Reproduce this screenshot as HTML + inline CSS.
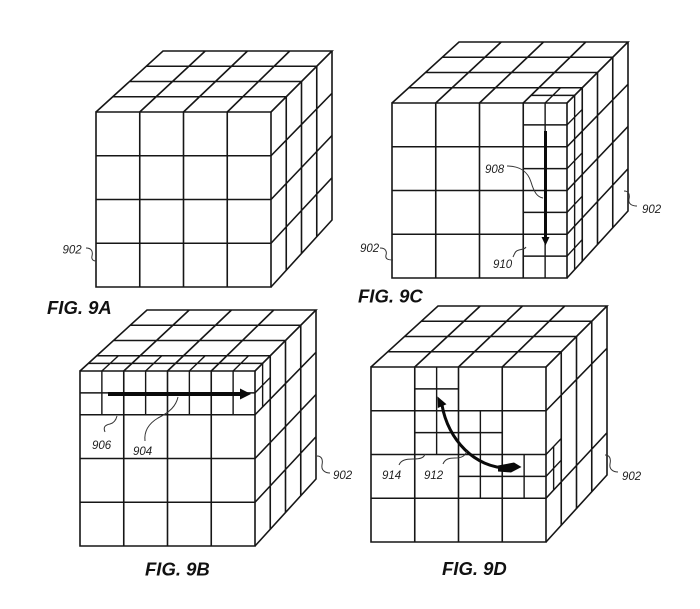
<!DOCTYPE html>
<html>
<head>
<meta charset="utf-8">
<style>
html,body{margin:0;padding:0;background:#fff;}
svg{display:block;}
.n{font-family:"Liberation Sans",sans-serif;font-style:italic;font-size:11.5px;fill:#222;stroke:none;}
.f{font-family:"Liberation Sans",sans-serif;font-style:italic;font-weight:bold;font-size:18.5px;fill:#111;stroke:none;}
</style>
</head>
<body>
<svg width="700" height="609" viewBox="0 0 700 609" fill="none" stroke="#161616" stroke-width="1.6">
<defs>
<g id="cube">
<path d="M0 0H175V175H0Z M43.75 0V175 M87.5 0V175 M131.25 0V175 M0 43.75H175 M0 87.5H175 M0 131.25H175"/>
<path d="M0 0L67 -61H236L175 0 M43.75 0L109.25 -61 M87.5 0L151.5 -61 M131.25 0L193.75 -61 M16.75 -15.25H190.25 M33.5 -30.5H205.5 M50.25 -45.75H220.75"/>
<path d="M236 -61V108L175 175 M190.25 -15.25V158.25 M205.5 -30.5V141.5 M220.75 -45.75V124.75 M175 43.75L236 -18.75 M175 131.25L236 65.75"/>
</g>
</defs>

<!-- FIG 9A -->
<g transform="translate(96,112)">
<use href="#cube"/>
<path d="M175 87.5L236 23.5"/>
</g>

<!-- FIG 9B -->
<g transform="translate(80,371)">
<use href="#cube"/>
<path d="M175 87.5L236 23.5"/>
<path stroke-width="1.4" d="M21.875 0V43.75 M65.625 0V43.75 M109.375 0V43.75 M153.125 0V43.75 M0 21.875H175 M8.375 -7.625H182.625 M21.875 0L38.44 -15.25 M65.625 0L81.81 -15.25 M109.375 0L125.19 -15.25 M153.125 0L168.56 -15.25 M182.625 -7.625V35.94 M175 21.875L190.25 6.44"/>
</g>
<path d="M108 394H243" stroke="#0a0a0a" stroke-width="4"/>
<polygon points="240,388.5 251,394 240,399.5" fill="#0a0a0a" stroke="none"/>

<!-- FIG 9C -->
<g transform="translate(392,103)">
<use href="#cube"/>
<path d="M175 87.5L236 23.5"/>
<path stroke-width="1.4" d="M153.125 0V175 M131.25 21.875H175 M131.25 65.625H175 M131.25 109.375H175 M131.25 153.125H175 M153.125 0L168.56 -15.25 M139.06 -7.625H182.625 M182.625 -7.625V166.625 M175 21.875L190.25 6.44 M175 65.625L190.25 49.81 M175 109.375L190.25 93.19 M175 153.125L190.25 136.56"/>
</g>
<path d="M545.5 131V238" stroke="#0a0a0a" stroke-width="3"/>
<polygon points="541.5,237 549.5,237 545.5,245.5" fill="#0a0a0a" stroke="none"/>

<!-- FIG 9D -->
<g transform="translate(371,367)">
<use href="#cube"/>
<path stroke-width="1.4" d="M65.625 0V87.5 M43.75 21.875H87.5 M43.75 65.625H131.25 M109.375 43.75V131.25 M87.5 109.375H175 M153.125 87.5V131.25 M175 87.5L190.25 71.5 M182.625 79.5V123.06 M175 109.375L190.25 93.19"/>
</g>
<path d="M442 405 C448 440, 475 468, 508 468" stroke="#0a0a0a" stroke-width="3"/>
<polygon points="498,465.5 514,462.5 521.5,467 511,472.5 498,471.5" fill="#0a0a0a" stroke="none"/>
<polygon points="437.5,396.5 446.5,404.2 437.8,408" fill="#0a0a0a" stroke="none"/>

<!-- leaders -->
<g stroke="#333" stroke-width="1">
<path d="M86 248 C92 248, 93 252, 92 256 C91 260, 94 261, 96 261"/>
<path d="M105 432 C103 427, 105 425, 110 424 C114 423, 116 420, 117 416"/>
<path d="M145 441 C144 432, 148 424, 158 418 C170 412, 176 406, 178 397"/>
<path d="M317 456 C322 456, 323 460, 322 465 C321 470, 325 473, 330 473"/>
<path d="M507 166 C520 166, 528 172, 531 182 C534 192, 537 197, 543 198"/>
<path d="M513 257 C515 253, 515 251, 519 250 C523 249, 525 249, 526 247"/>
<path d="M380 248 C386 248, 387 252, 386 255 C385 259, 388 260, 393 260"/>
<path d="M624 191 C629 191, 630 195, 629 199 C628 204, 632 206, 637 206"/>
<path d="M399 465 C401 460, 406 459, 413 459 C420 459, 424 458, 425 454"/>
<path d="M443 464 C445 459, 449 458, 455 458 C462 458, 465 456, 467 451"/>
<path d="M605 455 C610 455, 611 459, 610 464 C609 469, 613 472, 618 472"/>
</g>

<!-- labels -->
<text class="n" x="62.5" y="253.5">902</text>
<text class="f" x="47" y="314">FIG. 9A</text>

<text class="n" x="92" y="449">906</text>
<text class="n" x="133" y="455">904</text>
<text class="n" x="333" y="479">902</text>
<text class="f" x="145" y="575.5">FIG. 9B</text>

<text class="n" x="485" y="173">908</text>
<text class="n" x="493" y="268">910</text>
<text class="n" x="360" y="252">902</text>
<text class="n" x="642" y="213">902</text>
<text class="f" x="358" y="302.5">FIG. 9C</text>

<text class="n" x="382" y="479">914</text>
<text class="n" x="424" y="479">912</text>
<text class="n" x="622" y="480">902</text>
<text class="f" x="442" y="575">FIG. 9D</text>
</svg>
</body>
</html>
